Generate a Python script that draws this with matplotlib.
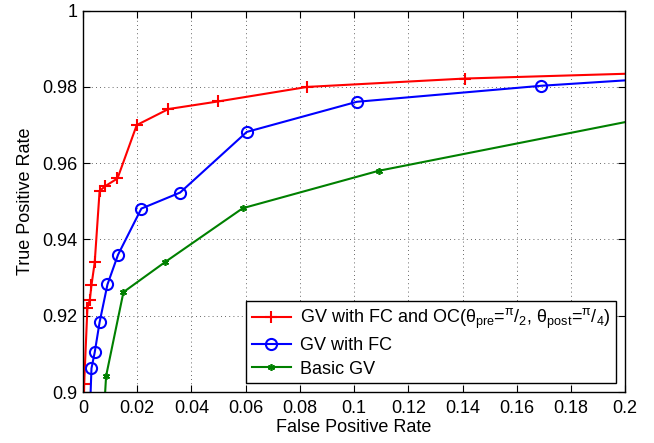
import matplotlib
matplotlib.use("Agg")
import matplotlib.pyplot as plt

plt.rcParams['font.family'] = ['Liberation Sans', 'DejaVu Sans']
plt.rcParams['mathtext.fontset'] = 'custom'
plt.rcParams['mathtext.rm'] = 'Liberation Sans'
plt.rcParams['mathtext.it'] = 'Liberation Sans'

fpr_oc = [0.0, 0.0004, 0.0016, 0.0025, 0.0031, 0.0043, 0.0061, 0.0082, 0.0127,
          0.0198, 0.0315, 0.0499, 0.0827, 0.141, 0.25]
tpr_oc = [0.88, 0.902, 0.922, 0.9242, 0.928, 0.934, 0.9527, 0.954, 0.956,
          0.970, 0.9742, 0.9762, 0.980, 0.9822, 0.9845]

fpr_fc = [0.0018, 0.0031, 0.0043, 0.0061, 0.0090, 0.0129, 0.0215, 0.0358,
          0.0604, 0.101, 0.169, 0.25]
tpr_fc = [0.88, 0.9062, 0.9104, 0.9183, 0.9282, 0.936, 0.9481, 0.9523,
          0.9682, 0.9761, 0.9803, 0.9840]

fpr_gv = [0.0065, 0.0085, 0.0149, 0.0303, 0.0589, 0.109, 0.25]
tpr_gv = [0.88, 0.9042, 0.9262, 0.9341, 0.9482, 0.958, 0.9778]

labels = [r'GV with FC and OC($\mathrm{\theta_{pre}}$=$\mathrm{^{\pi}/_{2}}$, '
          r'$\mathrm{\theta_{post}}$=$\mathrm{^{\pi}/_{4}}$)',
          'GV with FC', 'Basic GV']

fig = plt.figure(figsize=(6.54, 4.43), dpi=100)
ax = fig.add_axes([0.127, 0.115, 0.829, 0.861])

ax.plot(fpr_oc, tpr_oc, color='red', lw=1.5, marker='+', ms=9, mew=1.5, label=labels[0])
ax.plot(fpr_fc, tpr_fc, color='blue', lw=1.5, marker='o', ms=8, mfc='none', mew=1.5, label=labels[1])
ax.plot(fpr_gv, tpr_gv, color=(0, 0.5, 0), lw=1.5, marker=(6, 2, 0), ms=5, mew=1.2, label=labels[2])

ax.set_xlim(0, 0.2)
ax.set_ylim(0.9, 1.0)
ax.set_xticks([i * 0.02 for i in range(11)])
ax.set_xticklabels(['0', '0.02', '0.04', '0.06', '0.08', '0.1', '0.12', '0.14', '0.16', '0.18', '0.2'])
ax.set_yticks([0.9, 0.92, 0.94, 0.96, 0.98, 1.0])
ax.set_yticklabels(['0.9', '0.92', '0.94', '0.96', '0.98', '1'])
ax.tick_params(direction='in', top=True, right=True, labelsize=13, length=5)
ax.tick_params(axis='x', pad=6)
ax.tick_params(axis='y', pad=4)
ax.grid(True, linestyle=(0, (1, 4)), color='#333333', lw=0.6)
for s in ax.spines.values():
    s.set_linewidth(1.0)

ax.set_xlabel('False Positive Rate', fontsize=13, labelpad=1)
ax.set_ylabel('True Positive Rate', fontsize=13, labelpad=6)

leg = ax.legend(loc='lower right', fontsize=13, fancybox=False, framealpha=1,
                edgecolor='black', borderaxespad=0.5, handlelength=2.2,
                handletextpad=0.5, labelspacing=0.35, borderpad=0.3)
leg.get_frame().set_linewidth(1.0)

fig.savefig('out.png', dpi=100)
